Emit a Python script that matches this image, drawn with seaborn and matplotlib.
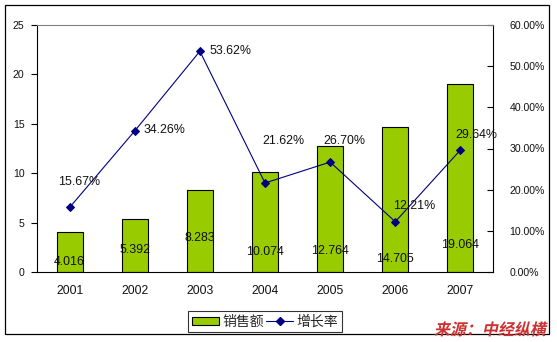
import numpy as np
import matplotlib
matplotlib.use("Agg")
import matplotlib.pyplot as plt
import seaborn as sns
from matplotlib.patches import Rectangle, Patch
from matplotlib.lines import Line2D
from matplotlib.ticker import FuncFormatter, FixedLocator
from matplotlib.transforms import Affine2D
from matplotlib.patheffects import AbstractPathEffect

# ---- data ----
years = ["2001", "2002", "2003", "2004", "2005", "2006", "2007"]
sales = [4.016, 5.392, 8.283, 10.074, 12.764, 14.705, 19.064]
growth = [15.67, 34.26, 53.62, 21.62, 26.70, 12.21, 29.64]
left_ticks = [0, 5, 10, 15, 20, 25]
right_ticks = [0, 10, 20, 30, 40, 50, 60]
series_names = ["销售额", "增长率"]
source_text = "来源：中经纵横"

# ---- styles (label placement) ----
bar_label_y = [1.01, 2.23, 3.44, 2.02, 2.13, 1.32, 2.73]
pct_offsets = [(10, 25), (30, 1), (31, 0), (18, 42), (14, 21), (19, 16), (16, 15)]

sns.set_style("white")
plt.rcParams["font.family"] = ["Liberation Sans", "Noto Sans CJK SC", "DejaVu Sans"]
FS = 8.9
FS_X = 8.7
FS_Y = 7.6

BAR_COLOR = "#99CC00"
LINE_COLOR = "#000080"

fig = plt.figure(figsize=(5.57, 3.42), dpi=100)
fig.patch.set_facecolor("white")
ax = fig.add_axes([37 / 557, 1 - 272 / 342, (493 - 37) / 557, (272 - 25) / 342])

sns.barplot(x=years, y=sales, ax=ax, color=BAR_COLOR, width=0.4,
            edgecolor="black", linewidth=0.8, saturation=1)
ax.set_xlim(-0.5, len(years) - 0.5)
ax.set_ylim(0, 25)
ax.set_yticks(left_ticks)
ax.set_xlabel("")
ax.set_ylabel("")
for s in ax.spines.values():
    s.set_visible(False)

for i, (v, ly) in enumerate(zip(sales, bar_label_y)):
    ax.text(i, ly, f"{v:.3f}", ha="center", va="center", fontsize=FS, color="#111111")

ax2 = ax.twinx()
sns.lineplot(x=np.arange(len(years)), y=growth, ax=ax2, color=LINE_COLOR,
             marker="D", markersize=4.5, linewidth=0.8,
             markeredgecolor=LINE_COLOR, markerfacecolor=LINE_COLOR)
ax2.set_xlim(-0.5, len(years) - 0.5)
ax2.set_ylim(0, 60)
ax2.set_yticks(right_ticks)
ax2.yaxis.set_major_formatter(FuncFormatter(lambda v, p: f"{v:.2f}%"))
ax2.set_xlabel("")
ax2.set_ylabel("")

for i, (g, (dx, dy)) in enumerate(zip(growth, pct_offsets)):
    ax2.annotate(f"{g:.2f}%", (i, g), xytext=(dx, dy), textcoords="offset pixels",
                 ha="center", va="center", fontsize=FS, color="#111111")

# spines
for name, s in ax2.spines.items():
    s.set_visible(True)
    s.set_linewidth(0.8)
    s.set_color("black")
ax2.spines["top"].set_color("#808080")

# ticks
ax.set_xticks(range(len(years)))
ax.set_xticklabels(years)
ax.xaxis.set_minor_locator(FixedLocator(np.arange(-0.5, len(years), 1.0)))
ax.tick_params(axis="x", which="major", length=0, pad=9, labelsize=FS_X, colors="#111111")
ax.tick_params(axis="x", which="minor", length=4, direction="in", width=0.8, color="black")
ax.tick_params(axis="y", which="major", length=4, direction="out", width=0.8, pad=5,
               labelsize=FS_Y, left=True, color="black", labelcolor="#111111")
ax2.tick_params(axis="y", which="major", length=4, direction="in", width=0.8, pad=12,
                labelsize=FS_Y, right=True, color="black", labelcolor="#111111")
ax2.tick_params(axis="x", which="both", length=0, labelbottom=False)

# legend
handles = [Patch(facecolor=BAR_COLOR, edgecolor="black", linewidth=0.8),
           Line2D([0], [0], color=LINE_COLOR, marker="D", markersize=4.5, linewidth=0.8)]
leg = fig.legend(handles, series_names, loc="center", bbox_to_anchor=(265 / 557, 1 - 321.5 / 342),
                 ncol=2, frameon=True, fancybox=False, fontsize=10, handlelength=1.95,
                 handleheight=0.5, handletextpad=0.25, columnspacing=0.15,
                 borderpad=0.25, borderaxespad=0)
leg.get_frame().set_edgecolor("black")
leg.get_frame().set_linewidth(0.8)

# outer frame
fig.add_artist(Rectangle((5 / 557, 1 - 334 / 342), (549 - 5) / 557, (334 - 5) / 342,
                         transform=fig.transFigure, fill=False, edgecolor="black",
                         linewidth=0.9))


class Skew(AbstractPathEffect):
    def __init__(self, deg):
        super().__init__()
        self.deg = deg

    def draw_path(self, renderer, gc, tpath, affine, rgbFace=None):
        m = affine.get_matrix()
        x0, y0 = m[0, 2], m[1, 2]
        sk = Affine2D().translate(-x0, -y0).skew_deg(self.deg, 0).translate(x0, y0)
        renderer.draw_path(gc, tpath, affine + sk, rgbFace)


fig.text(546 / 557, 1 - 330 / 342, source_text, ha="right", va="center",
         fontsize=11.5, fontweight="bold", color="#CC3030",
         family=["Noto Sans CJK SC", "DejaVu Sans"],
         path_effects=[Skew(12)])

fig.savefig("out.png", dpi=100)
